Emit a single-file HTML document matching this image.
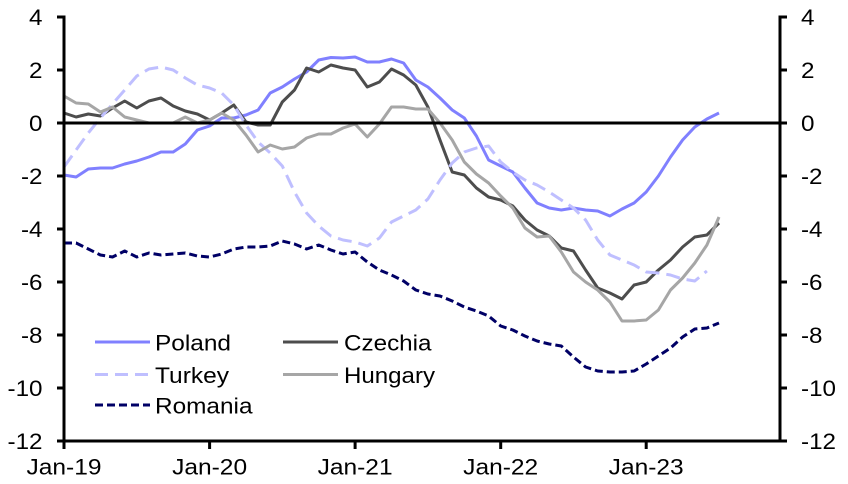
<!DOCTYPE html>
<html>
<head>
<meta charset="utf-8">
<style>
  html, body { margin: 0; padding: 0; background: #ffffff; }
  svg { display: block; }
  text { font-family: "Liberation Sans", Arial, sans-serif; font-size: 22px; fill: #000; }
</style>
</head>
<body>
<svg width="848" height="484" viewBox="0 0 848 484" xmlns="http://www.w3.org/2000/svg">
  <rect x="0" y="0" width="848" height="484" fill="#ffffff"/>

  <!-- series -->
  <g fill="none" stroke-width="3" stroke-linejoin="round">
    <polyline stroke="#8080FF" points="64,175 76.1,177 88.3,169 100.4,168 112.5,168 124.7,164 136.8,161 148.9,157 161,152 173.2,152 185.3,144 197.4,130 209.6,126 221.7,118 233.8,118 246,115 258.1,110 270.2,93 282.3,87 294.5,79 306.6,72 318.7,60 330.9,57.5 343,58 355.1,57 367.3,62 379.4,62 391.5,59 403.6,63 415.8,80 427.9,87 440,98 452.2,110 464.3,118 476.4,136 488.6,160 500.7,166 512.8,172 524.9,188 537.1,203 549.2,208 561.3,210 573.5,208 585.6,210 597.7,211 609.9,216 622,209 634.1,203 646.2,192 658.4,176 670.5,157 682.6,140 694.8,127 706.9,119 719,113"/>
    <polyline stroke="#4D4D4D" points="64,113 76.1,117 88.3,114 100.4,116 112.5,108 124.7,101 136.8,108 148.9,101 161,98 173.2,106 185.3,111 197.4,114 209.6,120 221.7,113 233.8,105 246,122 258.1,125 270.2,125 282.3,102 294.5,90 306.6,68 318.7,72 330.9,65 343,68 355.1,70 367.3,87 379.4,82 391.5,69 403.6,75 415.8,85 427.9,107 440,140 452.2,172 464.3,175 476.4,188 488.6,197 500.7,200 512.8,206 524.9,220 537.1,230 549.2,236 561.3,248 573.5,251 585.6,270 597.7,288 609.9,293 622,299 634.1,285 646.2,282 658.4,270 670.5,260 682.6,247 694.8,237 706.9,235 719,223"/>
    <polyline stroke="#BFBFFF" stroke-dasharray="14,7" points="64,167 76.1,150 88.3,133 100.4,118 112.5,104 124.7,90 136.8,76 148.9,69 161,67 173.2,70 185.3,78 197.4,85 209.6,88 221.7,93 233.8,105 246,125 258.1,142 270.2,153 282.3,166 294.5,192 306.6,213 318.7,226 330.9,236 343,240 355.1,242 367.3,246 379.4,238 391.5,222 403.6,216 415.8,210 427.9,199 440,180 452.2,163 464.3,152 476.4,148 488.6,146 500.7,162 512.8,172 524.9,180 537.1,185 549.2,192 561.3,200 573.5,208 585.6,220 597.7,240 609.9,255 622,260 634.1,265 646.2,272 658.4,273 670.5,275 682.6,279 694.8,281 706.9,271"/>
    <polyline stroke="#A6A6A6" points="64,96 76.1,103 88.3,104 100.4,112 112.5,107 124.7,117 136.8,120 148.9,123 161,123 173.2,123 185.3,117 197.4,123 209.6,120 221.7,113 233.8,120 246,135 258.1,152 270.2,145 282.3,149 294.5,147 306.6,138 318.7,134 330.9,134 343,128 355.1,124 367.3,137 379.4,124 391.5,107 403.6,107 415.8,109 427.9,109 440,123 452.2,140 464.3,162 476.4,174 488.6,183 500.7,196 512.8,208 524.9,228 537.1,237 549.2,236 561.3,252 573.5,272 585.6,282 597.7,290 609.9,302 622,321 634.1,321 646.2,320 658.4,310 670.5,290 682.6,278 694.8,263 706.9,245 719,217"/>
    <polyline stroke="#000066" stroke-dasharray="8,4" points="64,243 76.1,243 88.3,249 100.4,255 112.5,257 124.7,251 136.8,257 148.9,253 161,255 173.2,254 185.3,253 197.4,256 209.6,257 221.7,254 233.8,249 246,247 258.1,247 270.2,246 282.3,241 294.5,244 306.6,249 318.7,245 330.9,250 343,254 355.1,252 367.3,262 379.4,270 391.5,275 403.6,281 415.8,290 427.9,294 440,296 452.2,301 464.3,307 476.4,311 488.6,316 500.7,326 512.8,330 524.9,336 537.1,341 549.2,344 561.3,346 573.5,357 585.6,367 597.7,371 609.9,372 622,372 634.1,371 646.2,364 658.4,356 670.5,348 682.6,337 694.8,329 706.9,328 719,323"/>
  </g>

  <!-- zero line -->
  <line x1="64" y1="123" x2="780" y2="123" stroke="#000" stroke-width="3"/>

  <!-- axes -->
  <g stroke="#000" stroke-width="3" fill="none">
    <line x1="64" y1="15.5" x2="64" y2="442.5"/>
    <line x1="780" y1="15.5" x2="780" y2="442.5"/>
    <line x1="62.5" y1="441" x2="781.5" y2="441"/>
  </g>
  <g stroke="#000" stroke-width="3">
    <line x1="57" y1="17" x2="64" y2="17"/>
    <line x1="57" y1="70" x2="64" y2="70"/>
    <line x1="57" y1="123" x2="64" y2="123"/>
    <line x1="57" y1="176" x2="64" y2="176"/>
    <line x1="57" y1="229" x2="64" y2="229"/>
    <line x1="57" y1="282" x2="64" y2="282"/>
    <line x1="57" y1="335" x2="64" y2="335"/>
    <line x1="57" y1="388" x2="64" y2="388"/>
    <line x1="57" y1="441" x2="64" y2="441"/>
    <line x1="780" y1="17" x2="787" y2="17"/>
    <line x1="780" y1="70" x2="787" y2="70"/>
    <line x1="780" y1="123" x2="787" y2="123"/>
    <line x1="780" y1="176" x2="787" y2="176"/>
    <line x1="780" y1="229" x2="787" y2="229"/>
    <line x1="780" y1="282" x2="787" y2="282"/>
    <line x1="780" y1="335" x2="787" y2="335"/>
    <line x1="780" y1="388" x2="787" y2="388"/>
    <line x1="780" y1="441" x2="787" y2="441"/>
    <line x1="64" y1="441" x2="64" y2="449"/>
    <line x1="209.6" y1="441" x2="209.6" y2="449"/>
    <line x1="355.1" y1="441" x2="355.1" y2="449"/>
    <line x1="500.7" y1="441" x2="500.7" y2="449"/>
    <line x1="646.2" y1="441" x2="646.2" y2="449"/>
  </g>

  <!-- left labels -->
  <g text-anchor="end">
    <text x="42.5" y="25" textLength="13.5" lengthAdjust="spacingAndGlyphs">4</text>
    <text x="42.5" y="78" textLength="13.5" lengthAdjust="spacingAndGlyphs">2</text>
    <text x="42.5" y="131" textLength="13.5" lengthAdjust="spacingAndGlyphs">0</text>
    <text x="42.5" y="184" textLength="21.5" lengthAdjust="spacingAndGlyphs">-2</text>
    <text x="42.5" y="237" textLength="21.5" lengthAdjust="spacingAndGlyphs">-4</text>
    <text x="42.5" y="290" textLength="21.5" lengthAdjust="spacingAndGlyphs">-6</text>
    <text x="42.5" y="343" textLength="21.5" lengthAdjust="spacingAndGlyphs">-8</text>
    <text x="42.5" y="396" textLength="35" lengthAdjust="spacingAndGlyphs">-10</text>
    <text x="42.5" y="449" textLength="35" lengthAdjust="spacingAndGlyphs">-12</text>
  </g>

  <!-- right labels -->
  <g>
    <text x="801" y="25" textLength="13.5" lengthAdjust="spacingAndGlyphs">4</text>
    <text x="801" y="78" textLength="13.5" lengthAdjust="spacingAndGlyphs">2</text>
    <text x="801" y="131" textLength="13.5" lengthAdjust="spacingAndGlyphs">0</text>
    <text x="801" y="184" textLength="21.5" lengthAdjust="spacingAndGlyphs">-2</text>
    <text x="801" y="237" textLength="21.5" lengthAdjust="spacingAndGlyphs">-4</text>
    <text x="801" y="290" textLength="21.5" lengthAdjust="spacingAndGlyphs">-6</text>
    <text x="801" y="343" textLength="21.5" lengthAdjust="spacingAndGlyphs">-8</text>
    <text x="801" y="396" textLength="35" lengthAdjust="spacingAndGlyphs">-10</text>
    <text x="801" y="449" textLength="35" lengthAdjust="spacingAndGlyphs">-12</text>
  </g>

  <!-- x labels -->
  <g text-anchor="middle">
    <text x="64" y="474.5" textLength="75" lengthAdjust="spacingAndGlyphs">Jan-19</text>
    <text x="209.6" y="474.5" textLength="75" lengthAdjust="spacingAndGlyphs">Jan-20</text>
    <text x="355.1" y="474.5" textLength="75" lengthAdjust="spacingAndGlyphs">Jan-21</text>
    <text x="500.7" y="474.5" textLength="75" lengthAdjust="spacingAndGlyphs">Jan-22</text>
    <text x="646.2" y="474.5" textLength="75" lengthAdjust="spacingAndGlyphs">Jan-23</text>
  </g>

  <!-- legend -->
  <g fill="none" stroke-width="3">
    <line x1="95" y1="342" x2="150" y2="342" stroke="#8080FF"/>
    <line x1="95" y1="374.5" x2="150" y2="374.5" stroke="#BFBFFF" stroke-dasharray="13,7"/>
    <line x1="95" y1="405" x2="150" y2="405" stroke="#000066" stroke-dasharray="8,4"/>
    <line x1="283" y1="342" x2="338" y2="342" stroke="#4D4D4D"/>
    <line x1="283" y1="374.5" x2="338" y2="374.5" stroke="#A6A6A6"/>
  </g>
  <g>
    <text x="155" y="350.5" textLength="76" lengthAdjust="spacingAndGlyphs">Poland</text>
    <text x="155" y="383" textLength="74" lengthAdjust="spacingAndGlyphs">Turkey</text>
    <text x="155" y="413.5" textLength="97.5" lengthAdjust="spacingAndGlyphs">Romania</text>
    <text x="344" y="350.5" textLength="87.5" lengthAdjust="spacingAndGlyphs">Czechia</text>
    <text x="344" y="383" textLength="91" lengthAdjust="spacingAndGlyphs">Hungary</text>
  </g>
</svg>
</body>
</html>
